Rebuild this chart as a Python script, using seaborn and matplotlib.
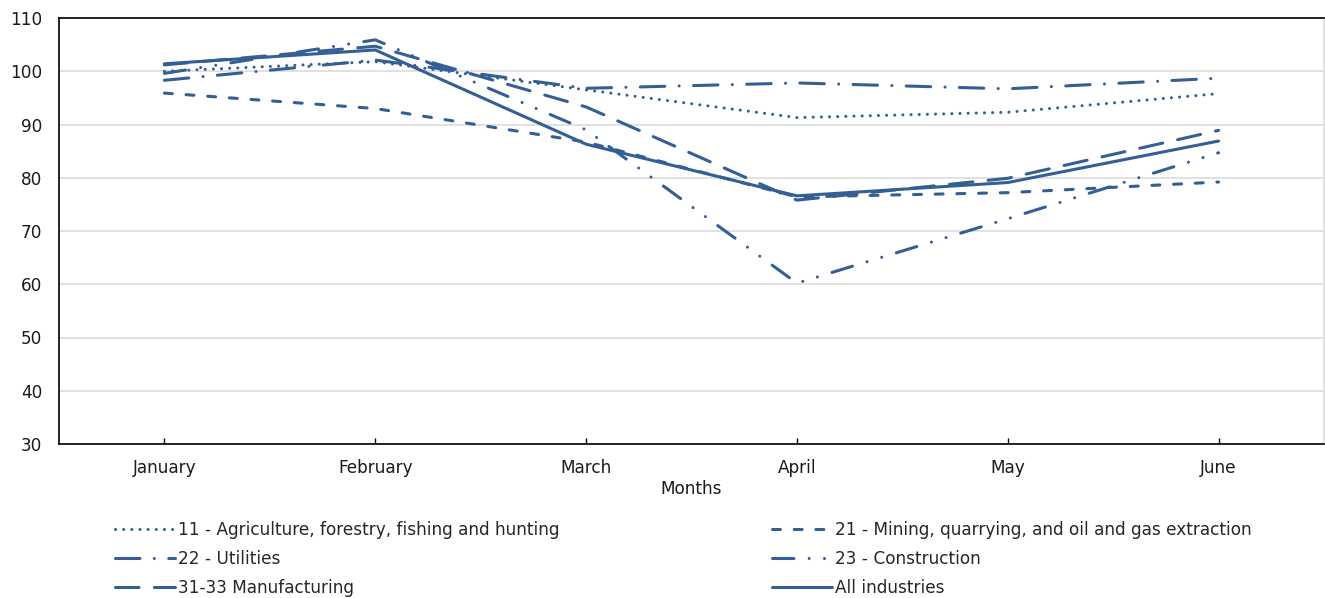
import matplotlib
matplotlib.use("Agg")
import matplotlib.pyplot as plt
import seaborn as sns
import pandas as pd

# Monthly index values by industry (NAICS sectors)
months = ["January", "February", "March", "April", "May", "June"]
agriculture = [100.0, 101.8, 96.5, 91.3, 92.3, 95.8]
mining = [95.9, 93.0, 86.7, 76.4, 77.2, 79.2]
utilities = [98.3, 102.1, 96.8, 97.8, 96.7, 98.7]
construction = [99.6, 105.9, 89.0, 60.2, 72.3, 84.7]
manufacturing = [101.2, 104.7, 93.3, 75.8, 79.9, 88.9]
all_industries = [101.4, 104.0, 86.3, 76.6, 79.1, 86.9]

series_names = [
    "11 - Agriculture, forestry, fishing and hunting",
    "21 - Mining, quarrying, and oil and gas extraction",
    "22 - Utilities",
    "23 - Construction",
    "31-33 Manufacturing",
    "All industries",
]
series_values = [agriculture, mining, utilities, construction, manufacturing, all_industries]

# Dash patterns (in line-width units, drawn with round caps)
styles = {
    series_names[0]: (0, (0.01, 2.66)),
    series_names[1]: (0, (2.6, 4.5)),
    series_names[2]: (0, (8.0, 4.7, 0.01, 4.7)),
    series_names[3]: (0, (7.0, 5.0, 0.01, 5.0, 0.01, 5.0)),
    series_names[4]: (0, (7.7, 5.0)),
    series_names[5]: "-",
}

df = pd.DataFrame(
    [(name, m, v) for name, vals in zip(series_names, series_values) for m, v in zip(months, vals)],
    columns=["Industry", "Month", "Index"],
)

sns.set_style("white")
plt.rcParams["font.family"] = ["DejaVu Sans"]
fs = 12.2
plt.rcParams["font.size"] = fs

color = "#335f95"
text_color = "#1a1a1a"
fig = plt.figure(figsize=(13.25, 5.98), dpi=100)
ax = fig.add_axes([59 / 1325, 1 - 444 / 598, (1324 - 59) / 1325, (444 - 18) / 598])

handles = {}
for name in series_names:
    sub = df[df["Industry"] == name]
    sns.lineplot(data=sub, x="Month", y="Index", ax=ax, color=color, linewidth=2.2,
                 linestyle=styles[name], dash_capstyle="round", solid_capstyle="round",
                 label=name, sort=False)
    handles[name] = ax.lines[-1]

ax.set_xlim(-0.5, 5.5)
ax.set_ylim(30, 110)
ax.set_yticks(range(30, 111, 10))
ax.yaxis.grid(True, color="#d9d9d9", linewidth=1.1)
ax.xaxis.grid(False)
ax.set_axisbelow(True)

for side in ["left", "bottom", "top"]:
    ax.spines[side].set_color("black")
    ax.spines[side].set_linewidth(1.2)
    ax.spines[side].set_visible(True)
ax.spines["right"].set_color("#d9d9d9")
ax.spines["right"].set_linewidth(1.1)

ax.tick_params(axis="x", direction="in", length=4, width=1, color="black", pad=11,
               labelsize=fs, labelcolor=text_color, bottom=True)
ax.tick_params(axis="y", length=0, pad=12, labelsize=fs, labelcolor=text_color)
ax.set_xlabel("Months", fontsize=fs, color=text_color, labelpad=2)
ax.set_ylabel("")

# Legend: two columns, filled row by row
order = [series_names[i] for i in (0, 2, 4, 1, 3, 5)]
if ax.get_legend() is not None:
    ax.get_legend().remove()
fig.legend([handles[n] for n in order], order, loc="upper left",
           bbox_to_anchor=(115 / 1325, 1 - 521 / 598), ncol=2, frameon=False,
           fontsize=fs, handlelength=3.54, handletextpad=0.2, columnspacing=12.5,
           labelspacing=0.66, borderpad=0, borderaxespad=0)

fig.savefig("out.png", dpi=100)
